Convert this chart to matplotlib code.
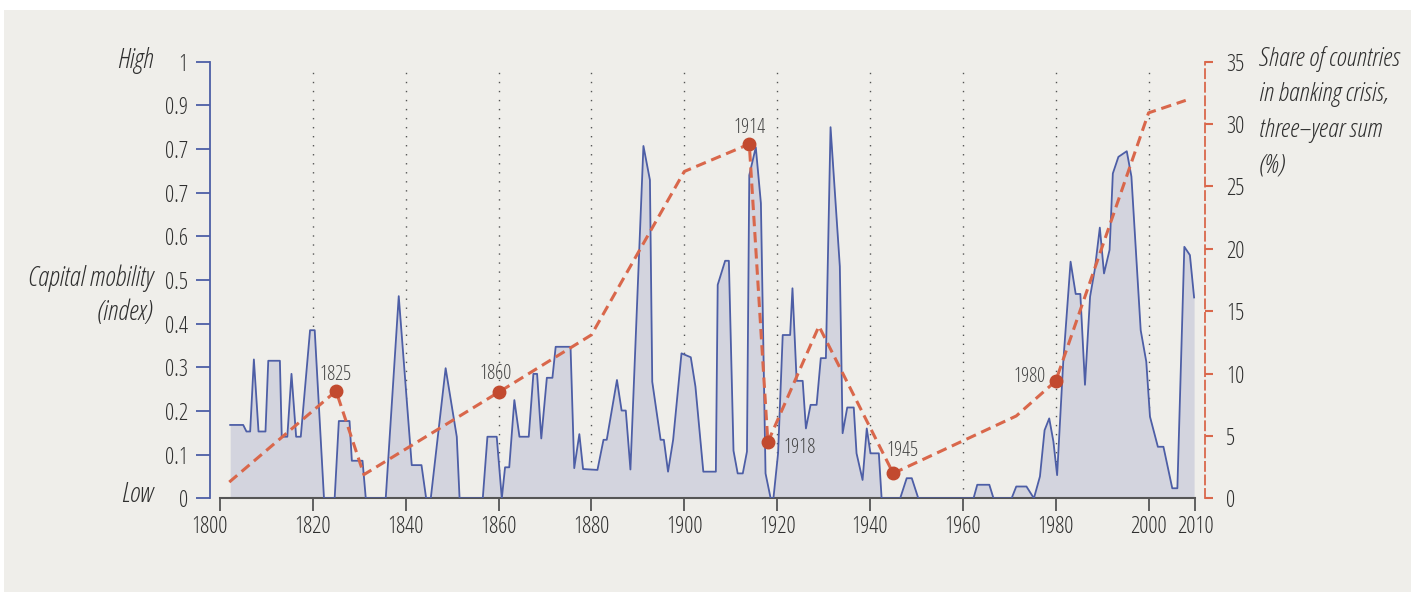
import matplotlib
matplotlib.use("Agg")
from matplotlib import pyplot as plt
from matplotlib.patches import Rectangle
from matplotlib.transforms import ScaledTranslation

# capital mobility index
cap_year = [1802.2, 1805.0, 1805.7, 1806.5, 1807.3, 1808.3, 1809.8, 1810.4, 1812.9, 1813.3,
            1814.5, 1815.4, 1816.4, 1817.4, 1819.4, 1820.4, 1822.4, 1824.7, 1825.6, 1827.9,
            1828.4, 1830.7, 1831.4, 1835.7, 1838.5, 1841.3, 1843.4, 1844.4, 1845.4, 1848.6,
            1851.0, 1851.6, 1856.6, 1857.6, 1859.6, 1860.7, 1861.4, 1862.3, 1863.4, 1864.5,
            1866.5, 1867.5, 1868.3, 1869.2, 1870.4, 1871.6, 1872.3, 1875.5, 1876.3, 1877.4,
            1878.2, 1881.3, 1882.6, 1883.3, 1885.5, 1886.5, 1887.4, 1888.4, 1891.2, 1892.6,
            1893.1, 1894.9, 1895.6, 1896.5, 1897.6, 1899.4, 1901.4, 1902.4, 1904.1, 1906.8,
            1907.2, 1908.8, 1909.6, 1910.6, 1911.5, 1912.6, 1913.5, 1914.0, 1915.4, 1916.5,
            1917.5, 1918.6, 1919.2, 1920.2, 1921.2, 1922.8, 1923.3, 1924.2, 1925.5, 1926.2,
            1927.2, 1928.5, 1929.4, 1930.5, 1931.5, 1933.5, 1934.1, 1935.1, 1936.5, 1937.1,
            1938.4, 1939.3, 1940.1, 1941.9, 1942.5, 1946.5, 1947.9, 1949.0, 1950.4, 1962.3,
            1963.1, 1965.7, 1966.6, 1970.5, 1971.5, 1973.7, 1975.3, 1976.6, 1977.6, 1978.6,
            1979.5, 1980.3, 1981.6, 1983.2, 1984.3, 1985.3, 1986.3, 1987.4, 1988.4, 1989.5,
            1990.4, 1991.6, 1992.3, 1993.5, 1995.3, 1996.3, 1998.3, 1999.5, 2000.3, 2002.0,
            2003.2, 2005.1, 2006.2, 2007.7, 2008.9, 2009.8]
cap_value = [0.168, 0.168, 0.153, 0.153, 0.318, 0.153, 0.153, 0.315, 0.315, 0.141,
             0.141, 0.285, 0.141, 0.141, 0.385, 0.385, 0.0, 0.0, 0.177, 0.177,
             0.086, 0.086, 0.0, 0.0, 0.463, 0.076, 0.076, 0.0, 0.0, 0.298,
             0.141, 0.0, 0.0, 0.141, 0.141, 0.0, 0.071, 0.071, 0.225, 0.141,
             0.141, 0.285, 0.285, 0.137, 0.276, 0.276, 0.347, 0.347, 0.069, 0.147,
             0.067, 0.065, 0.134, 0.134, 0.271, 0.201, 0.201, 0.066, 0.807, 0.729,
             0.267, 0.134, 0.134, 0.061, 0.134, 0.332, 0.323, 0.256, 0.061, 0.061,
             0.489, 0.544, 0.544, 0.109, 0.057, 0.057, 0.107, 0.740, 0.804, 0.676,
             0.057, 0.0, 0.0, 0.103, 0.374, 0.374, 0.481, 0.269, 0.269, 0.160,
             0.214, 0.214, 0.321, 0.321, 0.850, 0.531, 0.149, 0.208, 0.208, 0.103,
             0.042, 0.160, 0.103, 0.103, 0.0, 0.0, 0.046, 0.046, 0.0, 0.0,
             0.031, 0.031, 0.0, 0.0, 0.027, 0.027, 0.0, 0.050, 0.156, 0.183,
             0.130, 0.053, 0.309, 0.542, 0.468, 0.468, 0.260, 0.462, 0.523, 0.620,
             0.515, 0.569, 0.744, 0.782, 0.795, 0.737, 0.385, 0.313, 0.187, 0.118,
             0.118, 0.023, 0.023, 0.576, 0.557, 0.460]

# share of countries in banking crisis, three-year sum (%)
crisis_year = [1802, 1825, 1831, 1860, 1880, 1900, 1914, 1918, 1929, 1945, 1971.5, 1980, 2000, 2008]
crisis_share = [1.3, 8.6, 1.9, 8.5, 13.1, 26.2, 28.4, 4.5, 13.8, 2.0, 6.6, 9.4, 30.9, 31.9]
marked_years = [1825, 1860, 1914, 1918, 1945, 1980]

left_ticks = [0, 0.1, 0.2, 0.3, 0.4, 0.5, 0.6, 0.7, 0.8, 0.9, 1]
left_labels = ["0", "0.1", "0.2", "0.3", "0.4", "0.5", "0.6", "0.7", "0.7", "0.9", "1"]
right_ticks = [0, 5, 10, 15, 20, 25, 30, 35]
year_ticks = [1800, 1820, 1840, 1860, 1880, 1900, 1920, 1940, 1960, 1980, 2000, 2010]

plt.rcParams["font.family"] = ["Open Sans", "DejaVu Sans"]
plt.rcParams["font.stretch"] = "condensed"
plt.rcParams["font.weight"] = 300

BLUE = "#4d5ea6"
FILL = "#d3d4de"
RED = "#d9674b"
DOT = "#c24a2f"
TXT = "#2f2f2f"
W, H = 1411, 592

fig = plt.figure(figsize=(W / 100, H / 100), dpi=100)
fig.patch.set_facecolor("white")
fig.patches.append(Rectangle((4 / W, 0), 1, 1 - 10 / H, transform=fig.transFigure,
                             facecolor="#efeeea", edgecolor="none", zorder=-10))

ax = fig.add_axes([210 / W, 1 - 498.3 / H, 995 / W, 436.6 / H])
ax.set_facecolor("none")
ax.set_xlim(1797.85, 2012.15)
ax.set_ylim(0, 1)

for yr in year_ticks[1:-1]:
    ax.plot([yr, yr], [0, 0.99], color="#555555", lw=1, ls=(0, (1, 5.5)), zorder=1)

ax.fill_between(cap_year, cap_value, 0, color=FILL, lw=0, zorder=2)
ax.plot(cap_year, cap_value, color=BLUE, lw=1.3, zorder=3)

for s in ["top", "right"]:
    ax.spines[s].set_visible(False)
ax.spines["left"].set_color(BLUE)
ax.spines["left"].set_linewidth(1.3)
ax.spines["left"].set_bounds(0, 1)
ax.spines["bottom"].set_color("#555555")
ax.spines["bottom"].set_linewidth(1.5)
ax.spines["bottom"].set_bounds(1800, 2010)

ax.set_yticks(left_ticks)
ax.set_yticklabels(left_labels)
ax.tick_params(axis="y", colors=BLUE, labelcolor=TXT, length=10, width=1.3,
               pad=6, labelsize=16.5)
ax.set_xticks(year_ticks)
ax.set_xticklabels([str(y) for y in year_ticks])
ax.tick_params(axis="x", colors="#555555", labelcolor=TXT, length=9, width=1.3,
               pad=3, labelsize=16.5)
lab0 = ax.get_xticklabels()[0]
lab0.set_transform(lab0.get_transform() + ScaledTranslation(-11 / 100, 0, fig.dpi_scale_trans))

ax2 = ax.twinx()
ax2.set_ylim(0, 35)
ax2.set_facecolor("none")
for s in ["top", "left", "bottom"]:
    ax2.spines[s].set_visible(False)
ax2.spines["right"].set_color(RED)
ax2.spines["right"].set_linewidth(1.3)
ax2.spines["right"].set_linestyle((0, (5, 2.5)))
ax2.spines["right"].set_bounds(0, 35)
ax2.set_yticks(right_ticks)
ax2.tick_params(axis="y", colors=RED, labelcolor=TXT, length=6, width=1.5,
                pad=9, labelsize=16.5)

ax2.plot(crisis_year, crisis_share, color=RED, lw=2.2, dashes=(3.4, 1.9), zorder=4)
mk_share = [crisis_share[crisis_year.index(y)] for y in marked_years]
ax2.plot(marked_years, mk_share, "o", color=DOT, ms=9, zorder=5)

offsets = {1825: (0, 4, "center", "bottom"), 1860: (-2, 6, "center", "bottom"),
           1914: (0, 4, "center", "bottom"), 1918: (11, -4, "left", "center"),
           1945: (7, 9, "center", "bottom"), 1980: (-7, 3, "right", "center")}
for yr, v in zip(marked_years, mk_share):
    dx, dy, ha, va = offsets[yr]
    ax2.annotate(str(yr), (yr, v), xytext=(dx, dy), textcoords="offset points",
                 ha=ha, va=va, fontsize=14.5, color="#444444", zorder=6)

fig.text(153 / W, 1 - 60 / H, "High", ha="right", va="center", style="italic",
         fontsize=19.5, color=TXT)
fig.text(153 / W, 1 - 295 / H, "Capital mobility\n(index)", ha="right", va="center",
         style="italic", fontsize=19.5, color=TXT, linespacing=1.35, multialignment="right")
fig.text(153 / W, 1 - 495 / H, "Low", ha="right", va="center", style="italic",
         fontsize=19.5, color=TXT)
fig.text(1259 / W, 1 - 46 / H, "Share of countries\nin banking crisis,\nthree\u2013year sum\n(%)",
         ha="left", va="top", style="italic", fontsize=19, color=TXT, linespacing=1.55)

fig.savefig("out.png", dpi=100)
